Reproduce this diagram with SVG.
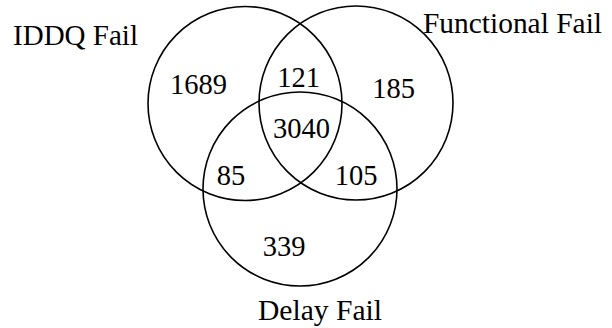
<svg xmlns="http://www.w3.org/2000/svg" width="612" height="328" viewBox="0 0 612 328">
  <style>
    .set { fill: none; stroke: #000; stroke-width: 1.6; }
    .lbl { font-family: "Liberation Serif", "Times New Roman", serif; font-size: 29px; fill: #000; }
    .num { font-family: "Liberation Serif", "Times New Roman", serif; font-size: 28.5px; fill: #000; text-anchor: middle; }
  </style>
  <rect width="612" height="328" fill="#fff"/>

  <!-- Three overlapping sets -->
  <g id="iddq">
    <circle class="set" cx="245" cy="103.5" r="97"/>
    <text class="lbl" x="13" y="45" textLength="125" lengthAdjust="spacingAndGlyphs">IDDQ Fail</text>
  </g>
  <g id="functional">
    <circle class="set" cx="356" cy="103" r="97"/>
    <text class="lbl" x="423" y="33" textLength="179" lengthAdjust="spacingAndGlyphs">Functional Fail</text>
  </g>
  <g id="delay">
    <circle class="set" cx="300" cy="189" r="97"/>
    <text class="lbl" x="258" y="320" textLength="124" lengthAdjust="spacingAndGlyphs">Delay Fail</text>
  </g>

  <!-- Region counts -->
  <g id="counts">
    <text class="num" x="198.5" y="94">1689</text>
    <text class="num" x="298.5" y="87">121</text>
    <text class="num" x="393.5" y="98">185</text>
    <text class="num" x="301.5" y="138">3040</text>
    <text class="num" x="231" y="185">85</text>
    <text class="num" x="356" y="185">105</text>
    <text class="num" x="284" y="256">339</text>
  </g>
</svg>
